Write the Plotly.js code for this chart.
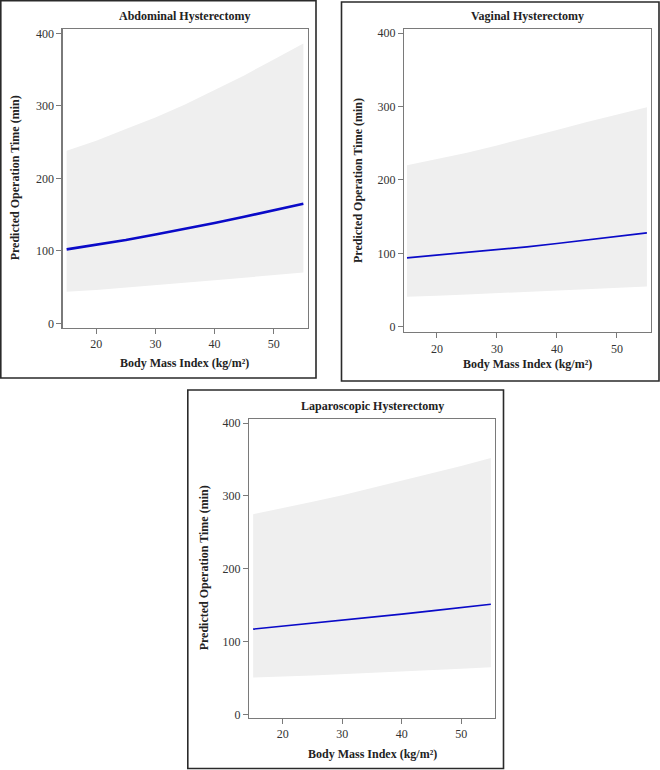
<!DOCTYPE html>
<html>
<head>
<meta charset="utf-8">
<script src="https://cdn.plot.ly/plotly-3.0.1.min.js"></script>
<style>html,body{margin:0;padding:0;background:#fff;}#chart{width:660px;height:770px;}</style>
</head>
<body>
<div id="chart"></div>
<script>
// BMI grid (kg/m²)
const bmi = [15, 20, 25, 30, 35, 40, 45, 50, 55];

// Abdominal hysterectomy
const abdFit   = [102, 108, 115, 122.5, 130, 138.5, 147, 156, 165];
const abdUpper = [238, 252, 268, 284, 302, 322, 342, 364, 386];
const abdLower = [43.5, 46, 49, 52.5, 56, 59.5, 63, 66, 70];

// Vaginal hysterectomy
const vagFit   = [94, 97.5, 101, 105, 109, 113.5, 118, 123, 128];
const vagUpper = [220, 228, 237, 247, 257, 268, 279, 289, 299];
const vagLower = [41, 42.5, 44, 45.5, 47.5, 49.5, 51, 53, 55];

// Laparoscopic hysterectomy
const lapFit   = [117.5, 121.5, 125.5, 129.5, 134, 138, 142.5, 147, 151.5];
const lapUpper = [275, 283, 292, 301, 311, 320, 331, 341, 352];
const lapLower = [51, 52.5, 54, 56, 57.5, 59.5, 61, 63, 65];

const panelTitles = ["Abdominal Hysterectomy", "Vaginal Hysterectomy", "Laparoscopic Hysterectomy"];
const xTitle = "Body Mass Index (kg/m²)";
const yTitle = "Predicted Operation Time (min)";
const xTicks = [20, 30, 40, 50];
const yTicks = [0, 100, 200, 300, 400];

const W = 660, H = 770;
const serif = "Liberation Serif, Times New Roman, serif";

const panels = [
  {fit: abdFit, up: abdUpper, lo: abdLower, xa: "x", ya: "y", lw: 2.6,
   plot: {l: 62.5, r: 307.5, t: 29, b: 327.7}, yr: [-6, 406], xr: [14.3, 55.7],
   box: {l: 0.8, r: 316, t: 0.8, b: 378}, titleY: 16, xTitleY: 363, yTitleX: 15},
  {fit: vagFit, up: vagUpper, lo: vagLower, xa: "x2", ya: "y2", lw: 1.7,
   plot: {l: 404, r: 650.5, t: 29, b: 332}, yr: [-7, 405.5], xr: [14.5, 55.6],
   box: {l: 341.5, r: 659, t: 2, b: 381}, titleY: 16, xTitleY: 363.5, yTitleX: 357.5},
  {fit: lapFit, up: lapUpper, lo: lapLower, xa: "x3", ya: "y3", lw: 1.7,
   plot: {l: 249, r: 495, t: 419, b: 717.7}, yr: [-4, 405.5], xr: [14.3, 55.7],
   box: {l: 187.8, r: 503.5, t: 390, b: 768.5}, titleY: 406, xTitleY: 754, yTitleX: 204}
];

const traces = [];
const layout = {
  width: W, height: H,
  margin: {l: 0, r: 0, t: 0, b: 0},
  paper_bgcolor: "#fff", plot_bgcolor: "#fff",
  showlegend: false,
  font: {family: serif, size: 12, color: "#333"},
  shapes: [], annotations: []
};

panels.forEach((p, i) => {
  const polyX = bmi.concat(bmi.slice().reverse());
  const polyY = p.up.concat(p.lo.slice().reverse());
  traces.push({
    x: polyX, y: polyY, xaxis: p.xa, yaxis: p.ya,
    type: "scatter", mode: "lines", fill: "toself",
    fillcolor: "#efefef", line: {width: 0, color: "rgba(0,0,0,0)"},
    hoverinfo: "skip"
  });
  traces.push({
    x: bmi, y: p.fit, xaxis: p.xa, yaxis: p.ya,
    type: "scatter", mode: "lines", line: {color: "#0a0ac8", width: p.lw}
  });
  const sfx = i === 0 ? "" : String(i + 1);
  const common = {
    showgrid: false, zeroline: false, showline: true, mirror: true,
    linecolor: "#7a7a7a", linewidth: 1.2,
    ticks: "outside", ticklen: 5, tickwidth: 1, tickcolor: "#7a7a7a",
    tickfont: {family: serif, size: 12, color: "#333"}, fixedrange: true
  };
  layout["xaxis" + sfx] = Object.assign({}, common, {
    domain: [p.plot.l / W, p.plot.r / W], range: p.xr,
    tickvals: xTicks, ticktext: xTicks.map(String),
    anchor: "y" + sfx
  });
  layout["yaxis" + sfx] = Object.assign({}, common, {
    domain: [1 - p.plot.b / H, 1 - p.plot.t / H], range: p.yr,
    tickvals: yTicks, ticktext: yTicks.map(String),
    anchor: "x" + sfx
  });
  layout.shapes.push({
    type: "rect", xref: "paper", yref: "paper",
    x0: p.box.l / W, x1: p.box.r / W, y0: 1 - p.box.b / H, y1: 1 - p.box.t / H,
    line: {color: "#2a2a2a", width: 1.6}
  });
  const cx = (p.plot.l + p.plot.r) / 2 / W;
  layout.annotations.push({
    text: "<b>" + panelTitles[i] + "</b>", xref: "paper", yref: "paper",
    x: cx, y: 1 - p.titleY / H, xanchor: "center", yanchor: "middle",
    showarrow: false, font: {family: serif, size: 12, color: "#222"}
  });
  layout.annotations.push({
    text: "<b>" + xTitle + "</b>", xref: "paper", yref: "paper",
    x: cx, y: 1 - p.xTitleY / H, xanchor: "center", yanchor: "middle",
    showarrow: false, font: {family: serif, size: 12, color: "#222"}
  });
  layout.annotations.push({
    text: "<b>" + yTitle + "</b>", xref: "paper", yref: "paper",
    x: p.yTitleX / W, y: 1 - ((p.plot.t + p.plot.b) / 2) / H,
    xanchor: "center", yanchor: "middle", textangle: -90,
    showarrow: false, font: {family: serif, size: 12, color: "#222"}
  });
});

Plotly.newPlot("chart", traces, layout, {staticPlot: true, displayModeBar: false});
</script>
</body>
</html>
